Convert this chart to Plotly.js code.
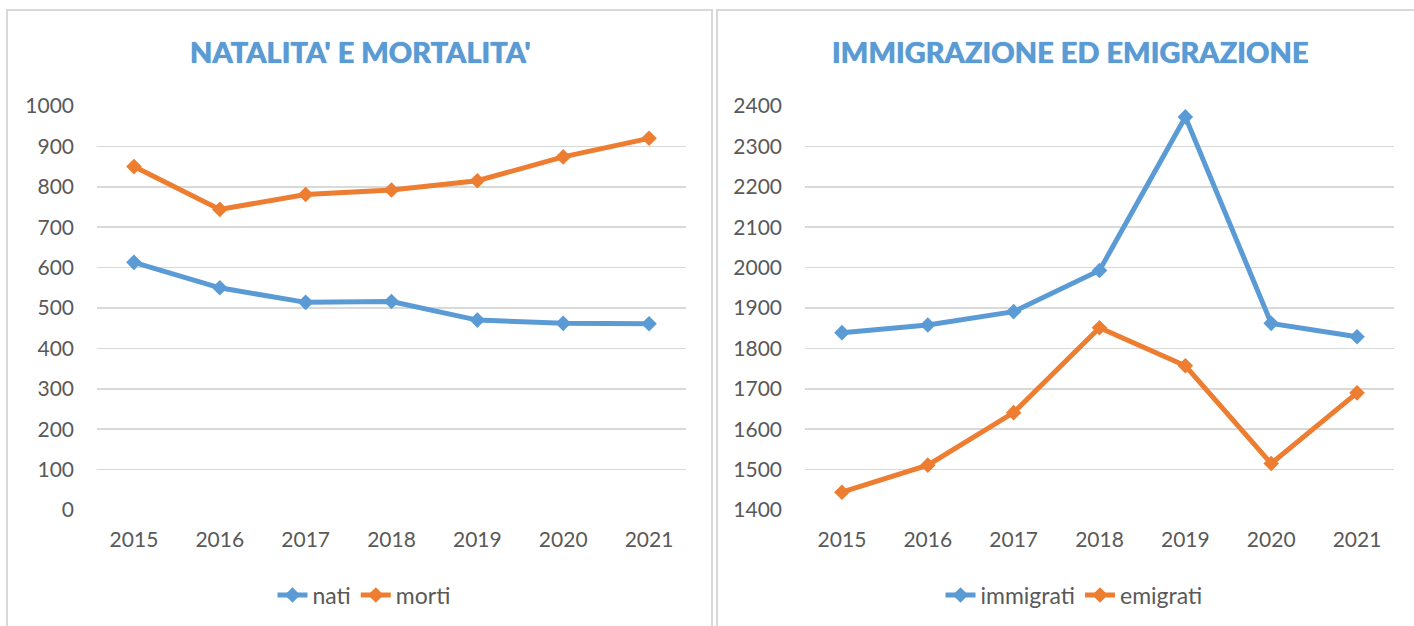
<!DOCTYPE html>
<html>
<head>
<meta charset="utf-8">
<script src="https://cdn.plot.ly/plotly-3.0.1.min.js"></script>
<style>html,body{margin:0;padding:0;background:#fff;}#chart{width:1414px;height:626px;}</style>
</head>
<body>
<div id="chart"></div>
<script>
const years = ['2015','2016','2017','2018','2019','2020','2021'];
const nati = [613, 550, 514, 516, 470, 462, 461];
const morti = [850, 744, 781, 792, 815, 874, 920];
const immigrati = [1839, 1858, 1891, 1993, 2373, 1862, 1829];
const emigrati = [1444, 1511, 1641, 1851, 1757, 1515, 1690];
const leftTitle = "NATALITA' E MORTALITA'";
const rightTitle = "IMMIGRAZIONE ED EMIGRAZIONE";

const W = 1414, H = 626;
const px = v => v / W;
const py = v => 1 - v / H;
const BLUE = '#5b9bd5', ORANGE = '#ed7d31';
const FONT = 'Lato, "Open Sans", sans-serif';

function tr(y, name, color, xa, ya, lg) {
  return {
    x: years, y: y, name: name, type: 'scatter', mode: 'lines+markers',
    line: {color: color, width: 5},
    marker: {symbol: 'diamond', size: 12, color: color},
    xaxis: xa, yaxis: ya, legend: lg, hoverinfo: 'skip'
  };
}

const data = [
  tr(nati, 'nati', BLUE, 'x', 'y', 'legend'),
  tr(morti, 'morti', ORANGE, 'x', 'y', 'legend'),
  tr(immigrati, 'immigrati', BLUE, 'x2', 'y2', 'legend2'),
  tr(emigrati, 'emigrati', ORANGE, 'x2', 'y2', 'legend2')
];

const xax = d => ({
  domain: d, type: 'category', showgrid: false, showline: false, zeroline: false,
  ticks: '', tickfont: {family: FONT, size: 21, color: '#595959'}, ticklabelstandoff: 15,
  fixedrange: true
});
const yax = (d, r, dt, anchor) => ({
  domain: d, range: r, dtick: dt, tick0: r[0], showgrid: true, gridcolor: '#d9d9d9', gridwidth: 1.5,
  zeroline: false, showline: false, ticks: '', anchor: anchor,
  tickfont: {family: FONT, size: 21, color: '#595959'}, ticklabelstandoff: 22,
  fixedrange: true
});

const legendFont = {family: FONT, size: 23, color: '#595959'};

const layout = {
  width: W, height: H,
  margin: {l: 0, r: 0, t: 0, b: 0},
  paper_bgcolor: '#fff', plot_bgcolor: '#fff',
  showlegend: true,
  xaxis: xax([px(97), px(686)]),
  yaxis: yax([py(510), py(106)], [0, 1000], 100, 'x'),
  xaxis2: Object.assign(xax([px(805), px(1394)]), {anchor: 'y2'}),
  yaxis2: yax([py(510), py(106)], [1400, 2400], 100, 'x2'),
  legend: {
    orientation: 'h', x: px(364), xanchor: 'center', y: py(595), yanchor: 'middle',
    font: legendFont, itemwidth: 30, tracegroupgap: 0,
    bgcolor: 'rgba(0,0,0,0)'
  },
  legend2: {
    orientation: 'h', x: px(1074), xanchor: 'center', y: py(595), yanchor: 'middle',
    font: legendFont, itemwidth: 30, tracegroupgap: 0,
    bgcolor: 'rgba(0,0,0,0)'
  },
  shapes: [
    {type: 'rect', xref: 'paper', yref: 'paper', x0: px(7), x1: px(712), y0: -0.1, y1: py(10),
     line: {color: '#d9d9d9', width: 2}, fillcolor: 'rgba(0,0,0,0)', layer: 'below'},
    {type: 'rect', xref: 'paper', yref: 'paper', x0: px(717), x1: px(1425), y0: -0.1, y1: py(10),
     line: {color: '#d9d9d9', width: 2}, fillcolor: 'rgba(0,0,0,0)', layer: 'below'}
  ],
  annotations: [
    {text: leftTitle, xref: 'paper', yref: 'paper', x: px(360), y: py(52), xanchor: 'center', yanchor: 'middle',
     showarrow: false, font: {family: FONT, size: 29, color: BLUE, weight: 900, shadow: '0px 0px 1px #4a86c0'}},
    {text: rightTitle, xref: 'paper', yref: 'paper', x: px(1070), y: py(52), xanchor: 'center', yanchor: 'middle',
     showarrow: false, font: {family: FONT, size: 29, color: BLUE, weight: 900, shadow: '0px 0px 1px #4a86c0'}}
  ]
};

Plotly.newPlot('chart', data, layout, {staticPlot: true, displayModeBar: false});
</script>
</body>
</html>
